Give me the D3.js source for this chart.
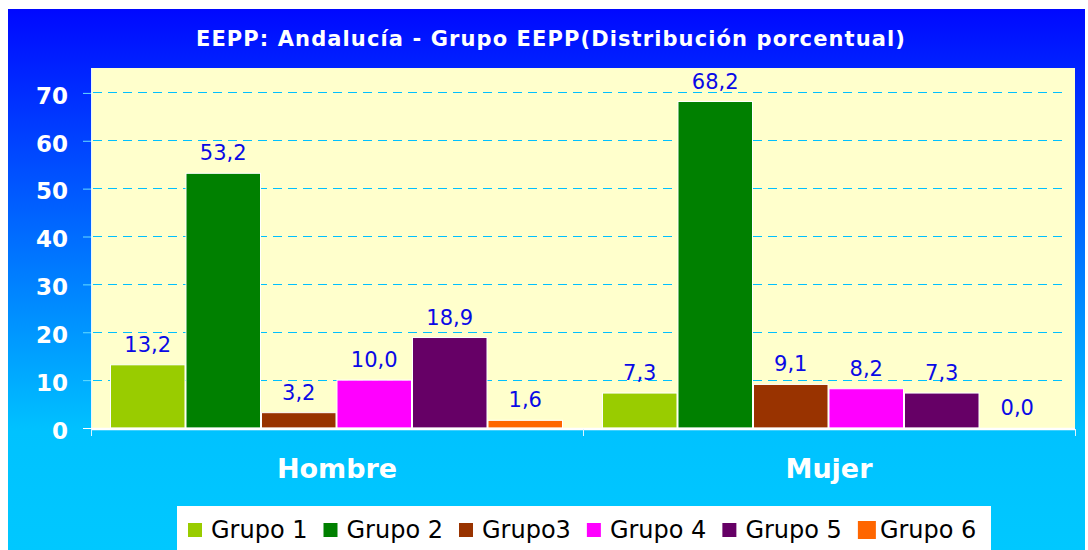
<!DOCTYPE html>
<html>
<head>
<meta charset="utf-8">
<script src="https://cdn.jsdelivr.net/npm/d3@7"></script>
<style>
  body { margin: 0; background: #fff; }
  svg { display: block; font-family: "DejaVu Sans", Verdana, sans-serif; }
</style>
</head>
<body>
<div id="chart"></div>
<script>
//data
var titleText = 'EEPP: Andalucía - Grupo EEPP(Distribución porcentual)';
var categories = ['Hombre', 'Mujer'];
var groups = ['Grupo 1', 'Grupo 2', 'Grupo3', 'Grupo 4', 'Grupo 5', 'Grupo 6'];
var hombreValues = [13.2, 53.2, 3.2, 10.0, 18.9, 1.6];
var mujerValues = [7.3, 68.2, 9.1, 8.2, 7.3, 0.0];
var yTicks = [0, 10, 20, 30, 40, 50, 60, 70];

//other
var groupColors = ['#99cc00', '#008000', '#993300', '#ff00ff', '#660066', '#ff6600'];

var outerW = 1088,
    outerH = 550;

var plot = { left: 91, right: 1075, top: 68, bottom: 429 };

var svg = d3.select('#chart').append('svg')
    .attr('width', outerW)
    .attr('height', outerH);

var defs = svg.append('defs');
var grad = defs.append('linearGradient')
    .attr('id', 'bg-grad')
    .attr('x1', 0).attr('y1', 0)
    .attr('x2', 0).attr('y2', 1);
grad.append('stop').attr('offset', '0%').attr('stop-color', '#0008ff');
grad.append('stop').attr('offset', '78%').attr('stop-color', '#00c2ff');
grad.append('stop').attr('offset', '100%').attr('stop-color', '#00c8ff');

svg.append('rect')
    .attr('x', 8)
    .attr('y', 9)
    .attr('width', 1077)
    .attr('height', outerH - 9)
    .attr('fill', 'url(#bg-grad)');

svg.append('text')
    .attr('x', 551)
    .attr('y', 46)
    .attr('text-anchor', 'middle')
    .attr('fill', '#fff')
    .style('font-weight', 'bold')
    .style('font-size', '21px')
    .style('letter-spacing', '1.1px')
    .text(titleText);

//scales
var yScale = d3.scaleLinear()
    .domain([0, 75.2])
    .range([plot.bottom - 1, plot.top]);

var xScale = d3.scaleBand()
    .domain(categories)
    .range([plot.left, plot.right]);

var xInner = d3.scaleBand()
    .domain(groups)
    .range([19, xScale.bandwidth() - 20]);

//plot background
svg.append('rect')
    .attr('x', plot.left)
    .attr('y', plot.top)
    .attr('width', plot.right - plot.left)
    .attr('height', plot.bottom - plot.top)
    .attr('fill', '#ffffcc');

svg.append('line')
    .attr('x1', plot.left + 0.5).attr('x2', plot.left + 0.5)
    .attr('y1', plot.top).attr('y2', plot.bottom)
    .attr('stroke', '#e8f4ff')
    .attr('stroke-width', 1);

//grid
var gridG = svg.append('g')
    .attr('transform', 'translate(' + (plot.left + 2) + ',0)');
gridG.selectAll('line')
    .data(yTicks.filter(function(d) { return d > 0; }))
    .enter().append('line')
    .attr('x1', 0)
    .attr('x2', 1067 - plot.left - 2)
    .attr('y1', function(d) { return Math.floor(yScale(d)) + 0.5; })
    .attr('y2', function(d) { return Math.floor(yScale(d)) + 0.5; })
    .attr('stroke', '#00c0ff')
    .attr('stroke-width', 1)
    .attr('stroke-dasharray', '9,6');

//y axis
var yAxis = d3.axisLeft(yScale)
    .tickValues(yTicks)
    .tickSize(8)
    .tickPadding(15)
    .tickFormat(function(d) { return d; });

var yAxisG = svg.append('g')
    .attr('class', 'y-axis')
    .attr('transform', 'translate(' + plot.left + ',0)')
    .call(yAxis);

yAxisG.select('.domain').remove();
yAxisG.selectAll('.tick line')
    .attr('stroke', function(d) { return d === 0 ? '#ffffff' : '#66ddff'; });
yAxisG.selectAll('.tick text')
    .attr('fill', '#fff')
    .attr('dy', '0.45em')
    .style('font-size', '23px')
    .style('font-weight', 'bold')
    .style('font-family', '"DejaVu Sans", Verdana, sans-serif');

//bars
var catG = svg.selectAll('.cat')
    .data(categories)
    .enter().append('g')
    .attr('class', 'cat')
    .attr('transform', function(d) { return 'translate(' + xScale(d) + ',0)'; });

var seriesByCat = { 'Hombre': hombreValues, 'Mujer': mujerValues };

catG.each(function(cat) {
    var g = d3.select(this);
    var rows = groups.map(function(grp, i) {
        return { group: grp, value: seriesByCat[cat][i], color: groupColors[i] };
    });

    g.selectAll('rect')
        .data(rows.filter(function(d) { return d.value > 0; }))
        .enter().append('rect')
        .attr('x', function(d) { return xInner(d.group) + 0.5; })
        .attr('y', function(d) { return yScale(d.value); })
        .attr('width', xInner.bandwidth() - 1)
        .attr('height', function(d) { return yScale(0) - yScale(d.value); })
        .attr('fill', function(d) { return d.color; })
        .attr('stroke', '#ffffff')
        .attr('stroke-width', 1);

    g.selectAll('.val')
        .data(rows)
        .enter().append('text')
        .attr('class', 'val')
        .attr('x', function(d) { return xInner(d.group) + xInner.bandwidth() / 2; })
        .attr('y', function(d) { return yScale(d.value) - 13; })
        .attr('text-anchor', 'middle')
        .attr('fill', '#0a0ae6')
        .style('font-size', '21px')
        .text(function(d) { return d3.format('.1f')(d.value).replace('.', ','); });
});

//x axis
svg.append('line')
    .attr('x1', plot.left).attr('x2', plot.right)
    .attr('y1', plot.bottom).attr('y2', plot.bottom)
    .attr('stroke', '#ffffff')
    .attr('stroke-width', 2.5);

var xAxis = d3.axisBottom(xScale)
    .tickSize(0)
    .tickPadding(30);

var xAxisG = svg.append('g')
    .attr('class', 'x-axis')
    .attr('transform', 'translate(0,' + plot.bottom + ')')
    .call(xAxis);

xAxisG.select('.domain').remove();
xAxisG.selectAll('.tick text')
    .attr('fill', '#fff')
    .style('font-size', '27px')
    .style('font-weight', 'bold')
    .style('font-family', '"DejaVu Sans", Verdana, sans-serif');

var sepTicks = categories.map(function(d) { return xScale(d); }).concat([plot.right]);
svg.selectAll('.sep-tick')
    .data(sepTicks)
    .enter().append('line')
    .attr('class', 'sep-tick')
    .attr('x1', function(d) { return d + 0.5; })
    .attr('x2', function(d) { return d + 0.5; })
    .attr('y1', plot.bottom)
    .attr('y2', plot.bottom + 7)
    .attr('stroke', '#dff4ff')
    .attr('stroke-width', 1);

//legend
var legendG = svg.append('g').attr('class', 'legend');
legendG.append('rect')
    .attr('x', 177)
    .attr('y', 506)
    .attr('width', 814)
    .attr('height', 50)
    .attr('fill', '#fff');

var lx = 188;
groups.forEach(function(grp, i) {
    var sw = i === 5 ? 18 : 14;
    legendG.append('rect')
        .attr('x', lx)
        .attr('y', 530 - sw / 2)
        .attr('width', sw)
        .attr('height', sw)
        .attr('fill', groupColors[i]);
    var t = legendG.append('text')
        .attr('x', lx + sw + (i === 5 ? 4 : 9))
        .attr('y', 538)
        .attr('fill', '#000')
        .style('font-size', '24px')
        .text(grp);
    lx = lx + sw + (i === 5 ? 4 : 9) + t.node().getComputedTextLength() + 16;
});
</script>
</body>
</html>
